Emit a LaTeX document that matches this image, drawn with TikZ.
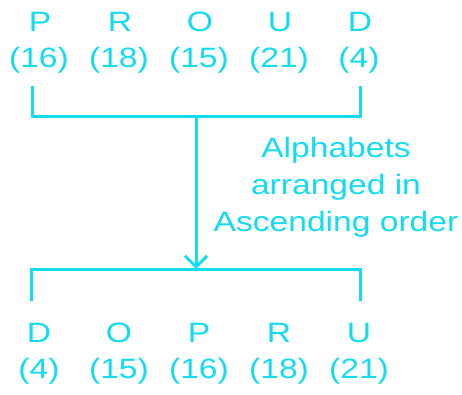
\documentclass[tikz,border=0pt]{standalone}
\usepackage{fontspec}
\setmainfont{Liberation Sans}
\usetikzlibrary{arrows.meta}
\definecolor{sky}{RGB}{20,220,240}
\tikzset{
	lbl/.style={text=sky,font=\fontsize{28}{37}\selectfont,anchor=base,inner sep=0pt,xscale=1.2},
	brk/.style={draw=sky,line width=3pt,line cap=rect}
}
\begin{document}
\begin{tikzpicture}[x=1pt,y=-1pt]
	\useasboundingbox(0,0)rectangle(462,395);
	\foreach \l/\n [count=\i,evaluate=\i as \x using 80*\i-40] in{P/16,R/18,O/15,U/21,D/4}{
		\node[lbl](t\i)at(\x,32){\l};
		\node[lbl](tn\i)at(\x-1,68){(\n)};
	}
	\foreach \l/\n [count=\i,evaluate=\i as \x using 80*\i-41] in{D/4,O/15,P/16,R/18,U/21}{
		\node[lbl](b\i)at(\x,342){\l};
		\node[lbl](bn\i)at(\x,378){(\n)};
	}
	\coordinate(ta)at(32,88);
	\coordinate(tb)at(360,88);
	\coordinate(tm)at(196,117);
	\coordinate(ba)at(31,299);
	\coordinate(bb)at(360,299);
	\coordinate(bm)at(196,269);
	\draw[brk](ta)|-(tb|-tm)--(tb);
	\draw[brk](ba)|-(bb|-bm)--(bb);
	\draw[brk,-{Straight Barb[length=11pt,width=22pt,line width=3pt]}](tm)--(bm);
	\node[lbl,anchor=center,align=center](note)at(336,187){Alphabets\\arranged in\\Ascending order};
\end{tikzpicture}
\end{document}
